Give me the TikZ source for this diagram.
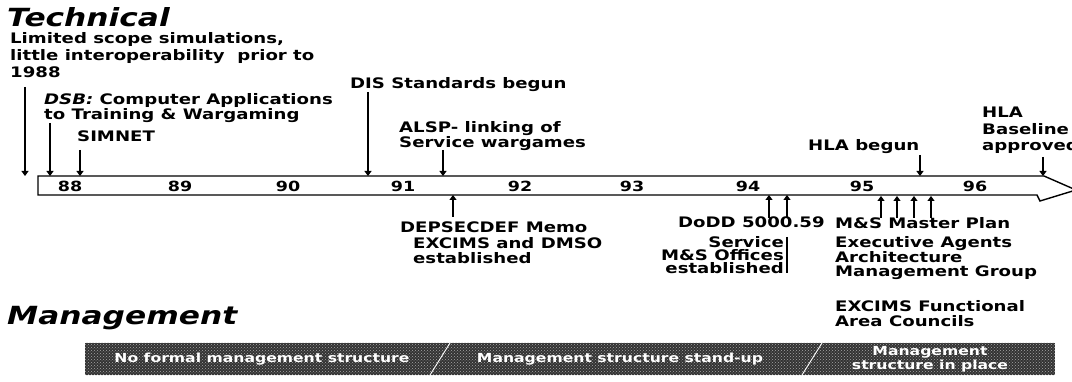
\documentclass[tikz,border=0pt]{standalone}
\usepackage{fontspec}
\newfontfamily\lbl{DejaVu Sans}[FakeStretch=1.25]
\usetikzlibrary{arrows.meta,patterns}
\tikzset{
  lbl/.style={font=\lbl\bfseries\fontsize{14.5}{15}\selectfont, inner sep=0pt, align=left, anchor=north west},
  yr/.style={font=\lbl\bfseries\fontsize{14}{14}\selectfont, inner sep=0pt},
  ttl/.style={font=\lbl\bfseries\itshape\fontsize{25}{25}\selectfont, inner sep=0pt, anchor=west},
  btxt/.style={font=\lbl\bfseries\fontsize{12.5}{14.5}\selectfont, text=white, inner sep=0pt, align=center},
  arr/.style={line width=1.1pt, -{Triangle[length=5pt,width=7pt]}},
  barline/.style={line width=1.4pt, line join=miter},
  sep/.style={white, line width=0.9pt}
}
\begin{document}
\begin{tikzpicture}[x=1pt,y=-1pt]
\clip (0,0) rectangle (1072,382);
\fill[white] (0,0) rectangle (1072,382);

% titles
\node[ttl] (tech) at (7,17) {Technical};
\node[ttl] (mgmt) at (7,318) {Management};

% timeline bar
\draw[barline] (38,176) -- (1044,176) -- (1076,190) -- (1040,201) -- (1037,195) -- (38,195) -- cycle;

% years
\node[yr] (y88) at (70,186) {88};
\node[yr] (y89) at (180,186) {89};
\node[yr] (y90) at (288,186) {90};
\node[yr] (y91) at (403,186) {91};
\node[yr] (y92) at (520,186) {92};
\node[yr] (y93) at (632,186) {93};
\node[yr] (y94) at (748,186) {94};
\node[yr] (y95) at (862,186) {95};
\node[yr] (y96) at (975,186) {96};

% labels above
\node[lbl, font=\lbl\bfseries\fontsize{14.5}{17}\selectfont] (lim) at (10,32.5) {Limited scope simulations,\\little interoperability\ \ prior to\\1988};
\node[lbl] (dsb) at (44,93) {\itshape DSB:\upshape{} Computer Applications\\to Training \& Wargaming};
\node[lbl] (sim) at (77,131) {SIMNET};
\node[lbl] (dis) at (350,77) {DIS Standards begun};
\node[lbl] (alsp) at (399,121) {ALSP- linking of\\Service wargames};
\node[lbl] (hla) at (808,139) {HLA begun};
\node[lbl, font=\lbl\bfseries\fontsize{14.5}{16.5}\selectfont] (hlab) at (982,107) {HLA\\Baseline\\approved};

% labels below
\node[lbl, font=\lbl\bfseries\fontsize{14.5}{15.5}\selectfont] (dep) at (400,222) {DEPSECDEF Memo\\\hspace*{13pt}EXCIMS and DMSO\\\hspace*{13pt}established};
\node[lbl] (dodd) at (678,217) {DoDD 5000.59};
\node[lbl, anchor=north east, align=right, font=\lbl\bfseries\fontsize{14.5}{13}\selectfont] (svc) at (784,236) {Service\\M\&S Offices\\established};
\node[lbl] (msmp) at (835,217) {M\&S Master Plan};
\node[lbl] (exa) at (835,236) {Executive Agents};
\node[lbl, font=\lbl\bfseries\fontsize{14.5}{14}\selectfont] (amg) at (835,251) {Architecture\\Management Group};
\node[lbl] (efc) at (835,300) {EXCIMS Functional\\Area Councils};

% arrow coordinates
\coordinate (limS) at (25,87);   \coordinate (limE) at (25,176);
\coordinate (dsbS) at (50,123);  \coordinate (dsbE) at (50,176);
\coordinate (simS) at (80,150);  \coordinate (simE) at (80,176);
\coordinate (disS) at (368,92);  \coordinate (disE) at (368,176);
\coordinate (alsS) at (443,150); \coordinate (alsE) at (443,176);
\coordinate (hlaS) at (920,155); \coordinate (hlaE) at (920,176);
\coordinate (hlbS) at (1043,157);\coordinate (hlbE) at (1043,176);
\coordinate (depS) at (453,217); \coordinate (depE) at (453,195);
\coordinate (dodS) at (769,218); \coordinate (dodE) at (769,195);
\coordinate (svcS) at (787,218); \coordinate (svcE) at (787,195);
\coordinate (m1S) at (881,218);  \coordinate (m1E) at (881,196);
\coordinate (m2S) at (897,218);  \coordinate (m2E) at (897,196);
\coordinate (m3S) at (914,218);  \coordinate (m3E) at (914,196);
\coordinate (m4S) at (931,218);  \coordinate (m4E) at (931,196);
\coordinate (svcT) at (787,237); \coordinate (svcB) at (787,273);

\foreach \a in {lim,dsb,sim,dis,als,hla,hlb,dep,dod,svc,m1,m2,m3,m4}
  \draw[arr] (\a S) -- (\a E);
\draw[line width=1.1pt] (svcT) -- (svcB);

% management bar
\fill[black!80] (85,343) rectangle (1055,375);
\fill[pattern=crosshatch dots, pattern color=black!35] (85,343) rectangle (1055,375);
\node[btxt] (mb1) at (262,359) {No formal management structure};
\node[btxt] (mb2) at (620,359) {Management structure stand-up};
\node[btxt] (mb3) at (930,359) {Management\\structure in place};
\draw[sep] (430,375) -- (450,343);
\draw[sep] (802,375) -- (822,343);
\end{tikzpicture}
\end{document}
